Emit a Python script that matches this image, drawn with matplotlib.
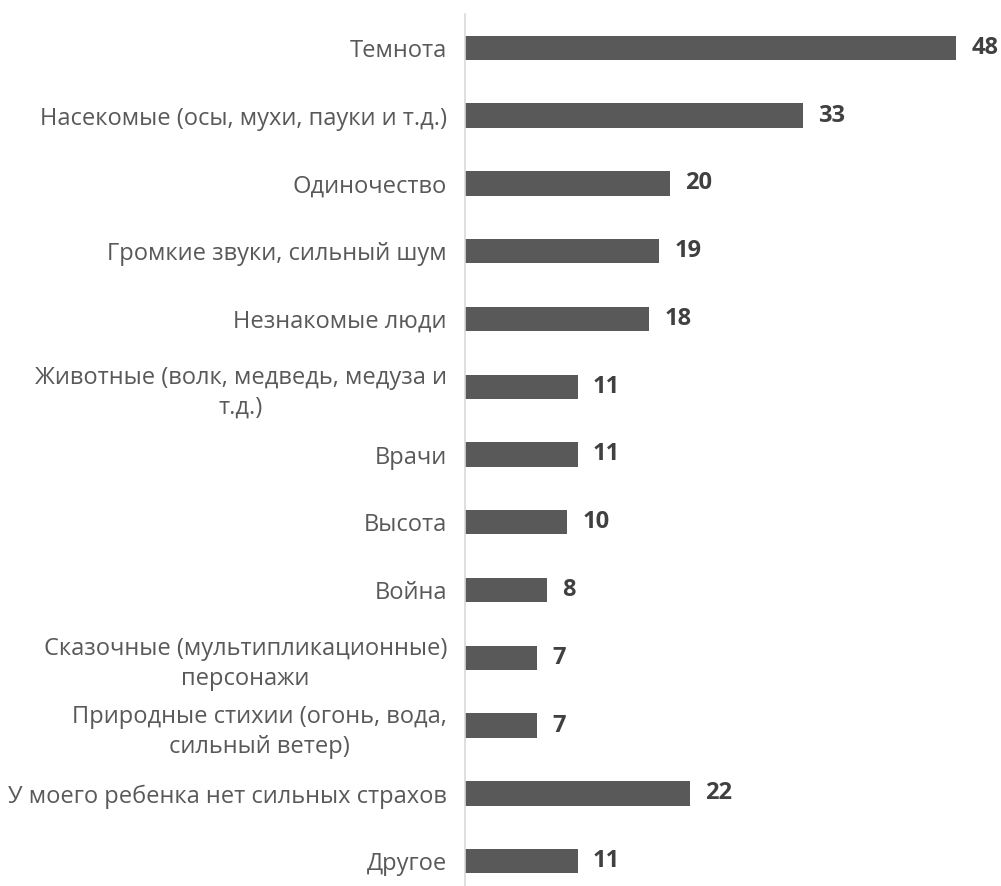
import matplotlib
matplotlib.use('Agg')
import matplotlib.pyplot as plt

CATEGORIES = ['Темнота',
              'Насекомые (осы, мухи, пауки и т.д.)',
              'Одиночество',
              'Громкие звуки, сильный шум',
              'Незнакомые люди',
              'Животные (волк, медведь, медуза и\nт.д.)',
              'Врачи',
              'Высота',
              'Война',
              'Сказочные (мультипликационные)\nперсонажи',
              'Природные стихии (огонь, вода,\nсильный ветер)',
              'У моего ребенка нет сильных страхов',
              'Другое']
VALUES = [48, 33, 20, 19, 18, 11, 11, 10, 8, 7, 7, 22, 11]

BAR = '#595959'
TEXT = '#595959'

plt.rcParams['font.family'] = ['Open Sans', 'DejaVu Sans']

fig = plt.figure(figsize=(10.01, 8.86), dpi=100)
ax = fig.add_axes([465/1001, 1 - 895/886, 536/1001, 881/886])

pos = list(range(len(CATEGORIES)))
ax.barh(pos, VALUES, height=0.36, color=BAR)
ax.set_ylim(len(CATEGORIES) - 0.5, -0.5)
ax.set_xlim(0, 536/10.23)

for p, v in zip(pos, VALUES):
    ax.annotate(str(v), (v, p), xytext=(11, 0), textcoords='offset points',
                va='center', ha='left', fontsize=17, fontweight='bold', color='#404040')

ax.set_yticks(pos)
ax.set_yticklabels(CATEGORIES, fontsize=17, color=TEXT, multialignment='center', linespacing=1.35)
ax.tick_params(axis='y', length=0, pad=13)
ax.set_xticks([])
for s in ['top', 'right', 'bottom']:
    ax.spines[s].set_visible(False)
ax.spines['left'].set_color('#d9d9d9')
ax.spines['left'].set_linewidth(1.2)

fig.savefig('out.png', dpi=100)
